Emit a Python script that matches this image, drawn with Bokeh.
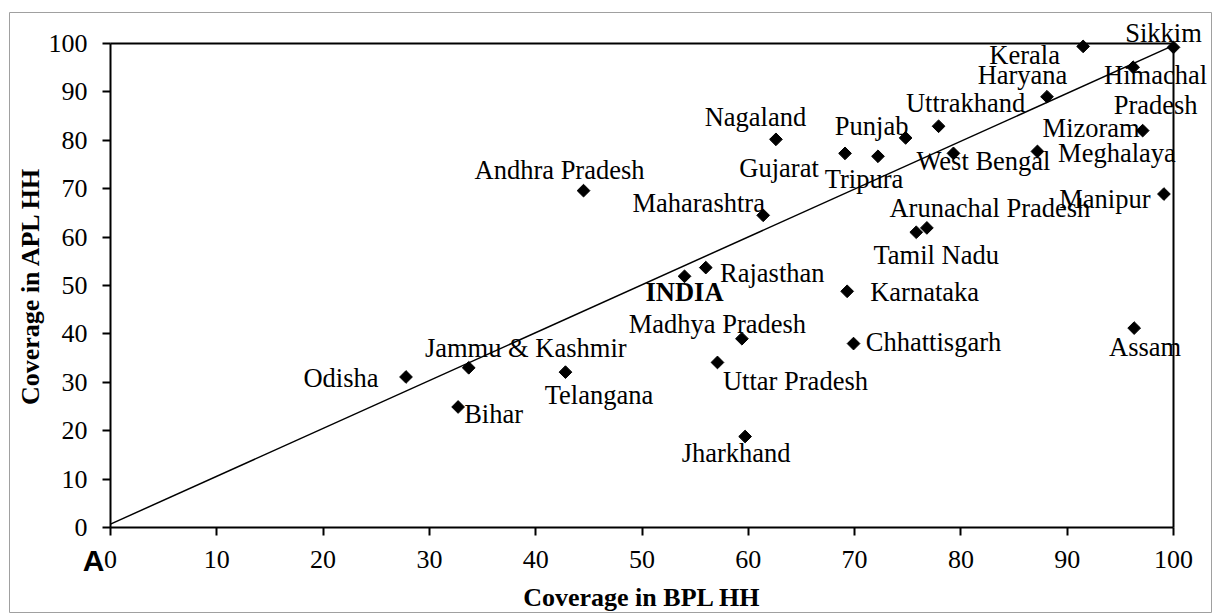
import math
from bokeh.plotting import figure
from bokeh.models import ColumnDataSource, LabelSet, Label, Range1d, FixedTicker, LinearAxis
from bokeh.core.properties import value
from bokeh.embed import file_html
from bokeh.resources import INLINE

# ---------------- data ----------------
states = ["Odisha", "Jammu & Kashmir", "Bihar", "Telangana", "Andhra Pradesh", "INDIA",
          "Rajasthan", "Uttar Pradesh", "Madhya Pradesh", "Jharkhand", "Maharashtra",
          "Nagaland", "Karnataka", "Chhattisgarh", "Gujarat", "Tripura", "Punjab",
          "Tamil Nadu", "Arunachal Pradesh", "Uttrakhand", "West Bengal", "Meghalaya",
          "Haryana", "Kerala", "Assam", "Himachal Pradesh", "Mizoram", "Manipur", "Sikkim"]
bpl_coverage = [27.8, 33.7, 32.7, 42.8, 44.5, 54.0,
                56.0, 57.1, 59.4, 59.7, 61.4,
                62.6, 69.3, 69.9, 69.1, 72.2, 74.8,
                75.8, 76.8, 77.9, 79.3, 87.2,
                88.1, 91.5, 96.3, 96.2, 97.1, 99.1, 100.0]
apl_coverage = [31.1, 33.0, 24.9, 32.1, 69.6, 51.9,
                53.7, 34.1, 39.0, 18.8, 64.5,
                80.2, 48.8, 38.0, 77.3, 76.7, 80.5,
                61.0, 61.9, 82.9, 77.3, 77.7,
                89.0, 99.4, 41.2, 95.1, 82.0, 68.9, 99.2]
ref_line_x = [0, 100]
ref_line_y = [0.7, 99.6]
ticks = [0, 10, 20, 30, 40, 50, 60, 70, 80, 90, 100]
axis_min, axis_max = 0, 100
x_title = "Coverage in BPL HH"
y_title = "Coverage in APL HH"
panel_letter = "A"
highlight = "INDIA"
wrapped = {"Himachal Pradesh": ["Himachal", "Pradesh"]}

# ---------------- label placement (px: right, down; baseline-centred) ----------------
label_offsets = {
    "Odisha": (-65, 10), "Jammu & Kashmir": (57, -10.5), "Bihar": (35.5, 16.5),
    "Telangana": (33.5, 31.5), "Andhra Pradesh": (-24, -12), "INDIA": (0, 24.5),
    "Rajasthan": (66.5, 14.5), "Uttar Pradesh": (78, 28), "Madhya Pradesh": (-24.5, -6),
    "Jharkhand": (-9, 25.5), "Maharashtra": (-64.5, -3.5), "Nagaland": (-20.5, -13),
    "Karnataka": (77.5, 9.5), "Chhattisgarh": (80, 7.5), "Gujarat": (-66, 24),
    "Tripura": (-14, 31.5), "Punjab": (-34, -3), "Tamil Nadu": (20, 31.5),
    "Arunachal Pradesh": (63, -10.5), "Uttrakhand": (27, -14.5), "West Bengal": (30, 16.5),
    "Meghalaya": (79.5, 10.5), "Haryana": (-24.5, -12.5), "Kerala": (-58.5, 17.5),
    "Assam": (11, 27.5), "Himachal Pradesh": (22.5, 16.5), "Mizoram": (-51.5, 6),
    "Manipur": (-59, 13.5), "Sikkim": (-10, -5.5),
}
LINE_GAP = 30.5
SERIF = "Liberation Serif"

# ---------------- layout geometry (pixels) ----------------
W, H = 1212, 613
FRAME_L, FRAME_T = 9, 12          # outer grey chart border
PLOT_L, PLOT_R = 110, 1173        # pixel positions of axis_min / axis_max on x
PLOT_T, PLOT_B = 43, 527          # pixel positions of axis_max / axis_min on y
xs = (PLOT_R - PLOT_L) / (axis_max - axis_min)
ys = (PLOT_B - PLOT_T) / (axis_max - axis_min)
x_range = Range1d(axis_min - (PLOT_L - FRAME_L) / xs, axis_max + (W - PLOT_R) / xs)
y_range = Range1d(axis_min - (H - PLOT_B) / ys, axis_max + (PLOT_T - FRAME_T) / ys)

p = figure(width=W, height=H, output_backend="svg", toolbar_location=None,
           x_range=x_range, y_range=y_range,
           min_border_left=FRAME_L, min_border_right=0, min_border_top=FRAME_T, min_border_bottom=0,
           background_fill_color="white", border_fill_color="white")

p.xgrid.grid_line_color = None
p.ygrid.grid_line_color = None
p.outline_line_color = "#a0a0a0"
p.outline_line_width = 1


def style_axis(ax, show_ticks=True):
    ax.bounds = (axis_min, axis_max)
    ax.ticker = FixedTicker(ticks=ticks if show_ticks else [])
    ax.axis_line_color = "black"
    ax.axis_line_width = 2
    ax.major_tick_line_color = "black"
    ax.major_tick_line_width = 2
    ax.major_tick_out = 8
    ax.major_tick_in = 0
    ax.minor_tick_line_color = None
    ax.major_label_text_font = SERIF
    ax.major_label_text_font_size = "26px"
    ax.major_label_text_color = "black"
    ax.axis_label_text_font = SERIF
    ax.axis_label_text_font_size = "26px"
    ax.axis_label_text_font_style = "bold"
    ax.axis_label_text_color = "black"


xa = p.xaxis[0]
ya = p.yaxis[0]
style_axis(xa)
style_axis(ya)
xa.fixed_location = axis_min
ya.fixed_location = axis_min
xa.axis_label = x_title
xa.major_label_standoff = 15
xa.axis_label_standoff = 12
ya.axis_label = y_title
ya.major_label_standoff = 15
ya.axis_label_standoff = 1

top_ax = LinearAxis(fixed_location=axis_max)
style_axis(top_ax, show_ticks=False)
p.add_layout(top_ax, "above")
right_ax = LinearAxis(fixed_location=axis_max)
style_axis(right_ax, show_ticks=False)
p.add_layout(right_ax, "right")

# reference line
p.line(ref_line_x, ref_line_y, line_color="black", line_width=1.5)

# points
pts = ColumnDataSource(dict(x=bpl_coverage, y=apl_coverage, name=states))
p.scatter("x", "y", source=pts, marker="square", size=9, angle=math.pi / 4,
          fill_color="black", line_color="black")

# labels
norm = dict(x=[], y=[], text=[], xo=[], yo=[])
bold = dict(x=[], y=[], text=[], xo=[], yo=[])
for name, xv, yv in zip(states, bpl_coverage, apl_coverage):
    dx, dy = label_offsets[name]
    target = bold if name == highlight else norm
    for i, line in enumerate(wrapped.get(name, [name])):
        target["x"].append(xv)
        target["y"].append(yv)
        target["text"].append(line)
        target["xo"].append(dx)
        target["yo"].append(-(dy + i * LINE_GAP))

for d, style in ((norm, "normal"), (bold, "bold")):
    p.add_layout(LabelSet(x="x", y="y", text="text", x_offset="xo", y_offset="yo",
                          source=ColumnDataSource(d), text_align="center",
                          text_baseline="alphabetic", text_font=value(SERIF),
                          text_font_size="26.5px", text_font_style=style,
                          text_color="black"))

p.add_layout(Label(x=axis_min, y=axis_min, text=panel_letter, x_offset=-6, y_offset=-33,
                   text_align="right", text_baseline="alphabetic",
                   text_font="Liberation Sans", text_font_style="bold",
                   text_font_size="30px", text_color="black"))

open("out.html", "w").write(file_html(p, INLINE))
